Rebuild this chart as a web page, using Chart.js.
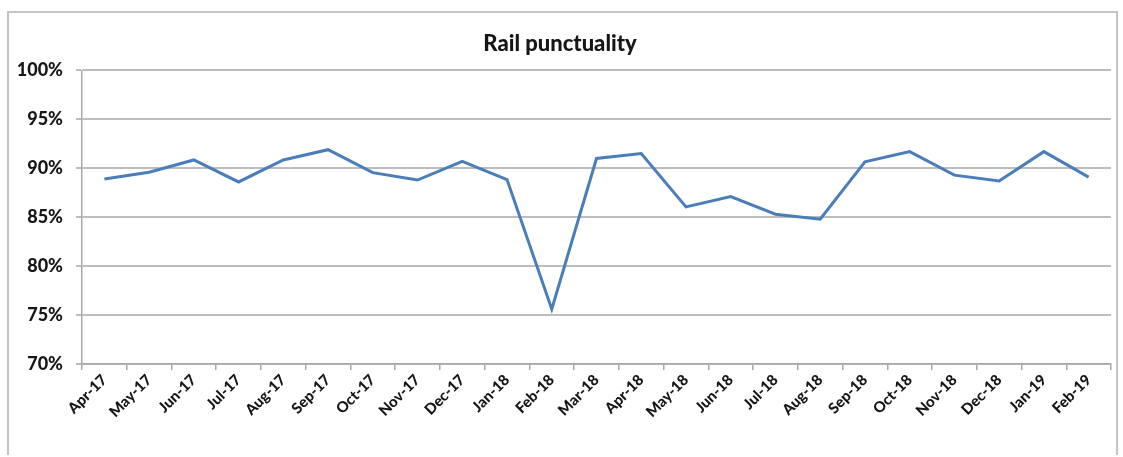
<!DOCTYPE html>
<html>
<head>
<meta charset="utf-8">
<script src="https://cdn.jsdelivr.net/npm/chart.js@4"></script>
<style>
  html, body { margin: 0; padding: 0; background: #fff; overflow: hidden; }
  #frame {
    position: absolute; left: 7px; top: 11px;
    width: 1107px; height: 442px;
    border: 2px solid #c4c4c4;
    border-bottom: none;
  }
</style>
</head>
<body>
<div id="frame"><canvas id="chart"></canvas></div>
<script>
// ── rail punctuality, Apr-17 .. Feb-19 ──
const months = [
  "Apr-17", "May-17", "Jun-17", "Jul-17", "Aug-17", "Sep-17", "Oct-17", "Nov-17",
  "Dec-17", "Jan-18", "Feb-18", "Mar-18", "Apr-18", "May-18", "Jun-18", "Jul-18",
  "Aug-18", "Sep-18", "Oct-18", "Nov-18", "Dec-18", "Jan-19", "Feb-19",
];
const punctuality = [
  88.9, 89.6, 90.85, 88.6, 90.85, 91.9, 89.55, 88.8,
  90.7, 88.85, 75.6, 91.0, 91.5, 86.05, 87.1, 85.3,
  84.8, 90.65, 91.7, 89.3, 88.7, 91.7, 89.1,
];
const yTicks = [70, 75, 80, 85, 90, 95, 100];

const FONT = "Lato, 'Open Sans', 'Liberation Sans', sans-serif";
const INK  = "#161616";
const GRID = "#bdbdbd";

new Chart(document.getElementById("chart"), {
  type: "line",
  data: {
    labels: months,
    datasets: [{
      label:       "Rail punctuality",
      data:        punctuality,
      borderColor: "#4a7ebb",
      borderWidth: 3,
      pointRadius: 0,
      tension:     0,
    }],
  },
  options: {
    responsive:          true,
    maintainAspectRatio: false,
    animation:           false,
    layout: { padding: { left: 0, right: 5, top: 0, bottom: 0 } },
    plugins: {
      legend:  { display: false },
      tooltip: { enabled: false },
      title: {
        display: true,
        text:    "Rail punctuality",
        color:   INK,
        font:    { family: FONT, size: 22, weight: "900" },
        padding: { top: 18, bottom: 13 },
      },
    },
    scales: {
      x: {
        offset: true,
        grid: {
          offset:          true,
          drawOnChartArea: false,
          tickLength:      6,
          color:           "#a8a8a8",
          lineWidth:       1.5,
        },
        border: { color: "#a8a8a8", width: 1.5 },
        ticks: {
          color:       INK,
          font:        { family: FONT, size: 15, weight: "900" },
          minRotation: 45,
          maxRotation: 45,
          autoSkip:    false,
          padding:     1,
        },
        afterFit: (s) => { s.height = 91; },
      },
      y: {
        min: yTicks[0],
        max: yTicks[yTicks.length - 1],
        afterBuildTicks: (s) => { s.ticks = yTicks.map((v) => ({ value: v })); },
        grid:   { color: GRID, lineWidth: 2, tickLength: 6 },
        border: { color: "#a8a8a8", width: 1.5 },
        ticks: {
          color:    INK,
          font:     { family: FONT, size: 18, weight: "900" },
          padding:  13,
          callback: (v) => `${v}%`,
        },
        afterFit: (s) => { s.width = 73; },
      },
    },
  },
});
</script>
</body>
</html>
